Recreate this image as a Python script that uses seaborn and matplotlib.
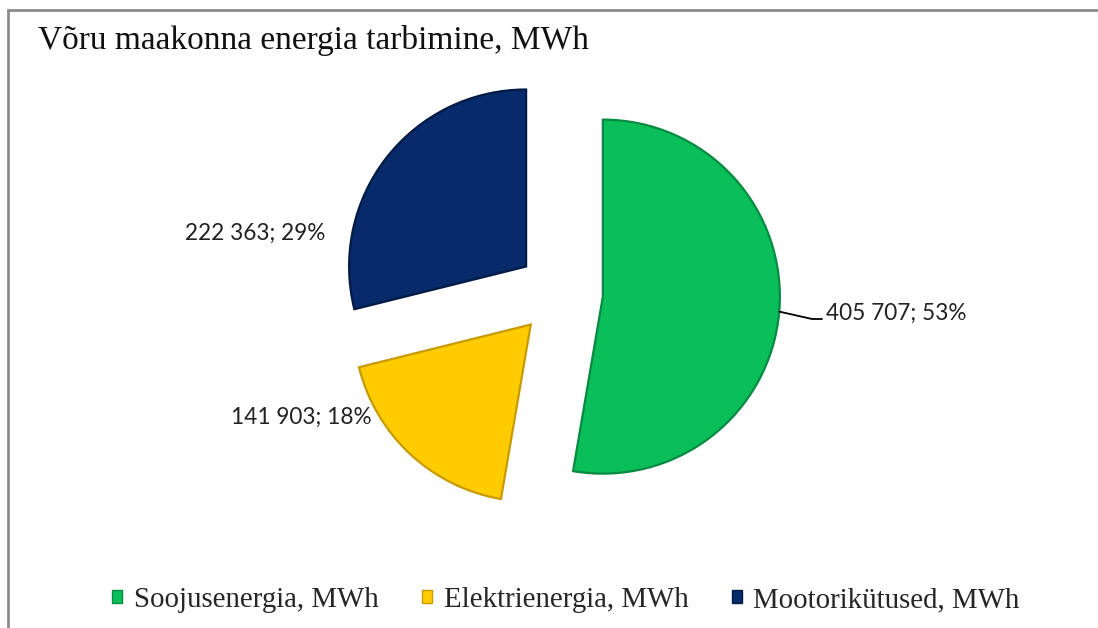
import matplotlib
matplotlib.use("Agg")
import matplotlib.pyplot as plt
import matplotlib.patches as mpatches
import numpy as np
import seaborn as sns

# data
categories = ["Soojusenergia, MWh", "Elektrienergia, MWh", "Mootorikütused, MWh"]
values = [405707, 141903, 222363]
colors = ["#0ABE5A", "#FFCC00", "#062A6A"]
edge_colors = ["#078A42", "#C79A00", "#031A45"]

sns.set_style("white")
plt.rcParams["font.family"] = ["Liberation Serif", "DejaVu Serif"]

W, H = 1098, 628
fig = plt.figure(figsize=(W / 100, H / 100), dpi=100)
ax = fig.add_axes([0, 0, 1, 1])

radius = 177
center = (560, H - 293)
wedges, _ = ax.pie(
    values,
    colors=colors,
    startangle=90,
    counterclock=False,
    radius=radius,
    center=center,
    explode=[0.243 * radius] * 3,
    wedgeprops={"linewidth": 1.6},
)
for w, ec in zip(wedges, edge_colors):
    w.set_edgecolor(ec)

ax.set_xlim(0, W)
ax.set_ylim(0, H)
ax.set_aspect("equal")
ax.axis("off")

# data labels
total = sum(values)
labels = []
for v in values:
    labels.append("{:,}".format(v).replace(",", " ") + "; {:.0f}%".format(100 * v / total))

label_font = {"family": ["Lato", "DejaVu Sans"], "fontsize": 16.3, "color": "#222222"}
ax.text(826, H - 313, labels[0], ha="left", va="center", **label_font)
ax.text(372, H - 417, labels[1], ha="right", va="center", **label_font)
ax.text(325, H - 233, labels[2], ha="right", va="center", **label_font)

# leader line for the big slice
g = wedges[0]
mid = np.deg2rad((g.theta1 + g.theta2) / 2)
sx = g.center[0] + radius * np.cos(mid)
sy = g.center[1] + radius * np.sin(mid)
ax.plot([sx, 812, 822], [sy, H - 319, H - 319], color="black", lw=1.3)

# title
fig.text(38 / W, 1 - 49 / H, "Võru maakonna energia tarbimine, MWh",
         ha="left", va="baseline", fontsize=24, color="#111111")

# legend
handles = [mpatches.Patch(facecolor=c, edgecolor=e, label=l)
           for c, e, l in zip(colors, edge_colors, categories)]
fig.legend(handles=handles, loc="center", bbox_to_anchor=(566 / W, 1 - 600 / H),
           ncol=3, frameon=False, fontsize=20.8, handlelength=0.35, handleheight=0.35,
           handletextpad=0.4, columnspacing=1.5)

# outer border
fig.patches.append(mpatches.Rectangle((8 / W, -0.1), 1.2, 1.1 - 10 / H,
                                      transform=fig.transFigure, fill=False,
                                      edgecolor="#8C8C8C", lw=2))

fig.savefig("out.png", dpi=100)
